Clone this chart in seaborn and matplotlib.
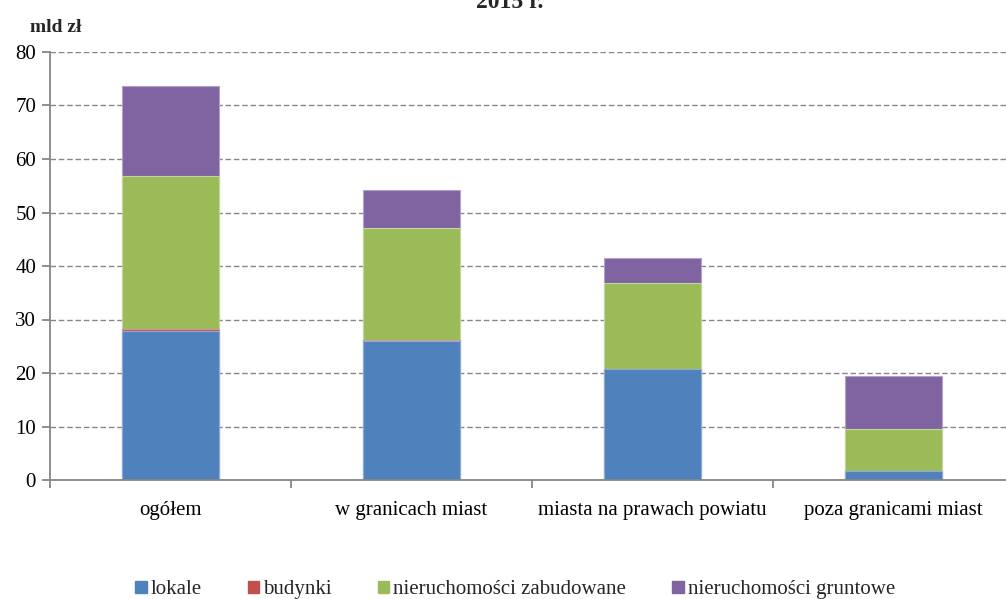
import numpy as np
import pandas as pd
import matplotlib.pyplot as plt
import seaborn as sns
from matplotlib.patches import Patch
from matplotlib.ticker import MultipleLocator, FixedLocator

# Data (mld zł)
categories = ['ogółem', 'w granicach miast', 'miasta na prawach powiatu', 'poza granicami miast']
series = ['lokale', 'budynki', 'nieruchomości zabudowane', 'nieruchomości gruntowe']
lokale = [27.8, 25.9, 20.7, 1.7]
budynki = [0.35, 0.25, 0.05, 0.0]
zabudowane = [28.7, 21.0, 16.0, 7.8]
gruntowe = [16.8, 7.1, 4.7, 9.9]

colors = ['#4F81BD', '#C0504D', '#9BBB59', '#8064A2']
edges = ['#8EAADB', '#D99694', '#C3D69B', '#B3A2C7']

sns.set_theme(style='white')
plt.rcParams['font.family'] = ['Liberation Serif', 'DejaVu Serif']

values = np.array([lokale, budynki, zabudowane, gruntowe])
cum = values.cumsum(axis=0)

fig = plt.figure(figsize=(10.06, 5.99), dpi=100)
ax = fig.add_axes([50 / 1006, 1 - 480 / 599, 964 / 1006, 428 / 599])

# draw cumulative totals from the top layer down so each overlaps the previous
for i in range(len(series) - 1, -1, -1):
    df = pd.DataFrame({'kat': categories, 'val': cum[i]})
    sns.barplot(data=df, x='kat', y='val', order=categories, color=colors[i],
                saturation=1, width=0.4, edgecolor=edges[i], linewidth=0.8, ax=ax)

ax.set_xlim(-0.5, 3.5)
ax.set_ylim(0, 80)
ax.yaxis.set_major_locator(MultipleLocator(10))
ax.set_xlabel('')
ax.set_ylabel('')

# dashed grid
for y in range(10, 81, 10):
    ax.axhline(y, color='#868686', linestyle=(0, (4, 2)), linewidth=1.0, zorder=0)
ax.set_axisbelow(True)

for s in ['top', 'right']:
    ax.spines[s].set_visible(False)
for s in ['left', 'bottom']:
    ax.spines[s].set_color('#868686')
    ax.spines[s].set_linewidth(1.3)

ax.tick_params(axis='y', which='major', left=True, length=6, width=1.3, color='#868686',
               labelsize=15, pad=4, labelcolor='black')
ax.tick_params(axis='x', which='major', bottom=False, labelsize=15, pad=9, labelcolor='black')
ax.xaxis.set_minor_locator(FixedLocator([-0.5, 0.5, 1.5, 2.5, 3.5]))
ax.tick_params(axis='x', which='minor', bottom=True, length=6, width=1.3, color='#868686')

fig.text(30 / 1006, 1 - 32 / 599, 'mld zł', fontsize=14, fontweight='bold')
fig.text(0.507, 1 - 8 / 599, '2015 r.', fontsize=17, fontweight='bold', ha='center', va='baseline')

handles = [Patch(facecolor=c, edgecolor=c, label=s) for c, s in zip(colors, series)]
fig.legend(handles=handles, loc='lower center', bbox_to_anchor=(0.512, -0.025), ncol=4,
           frameon=False, fontsize=15, handlelength=0.55, handleheight=0.55,
           handletextpad=0.2, columnspacing=2.2, borderpad=0.2)

fig.savefig('out.png', dpi=100)
